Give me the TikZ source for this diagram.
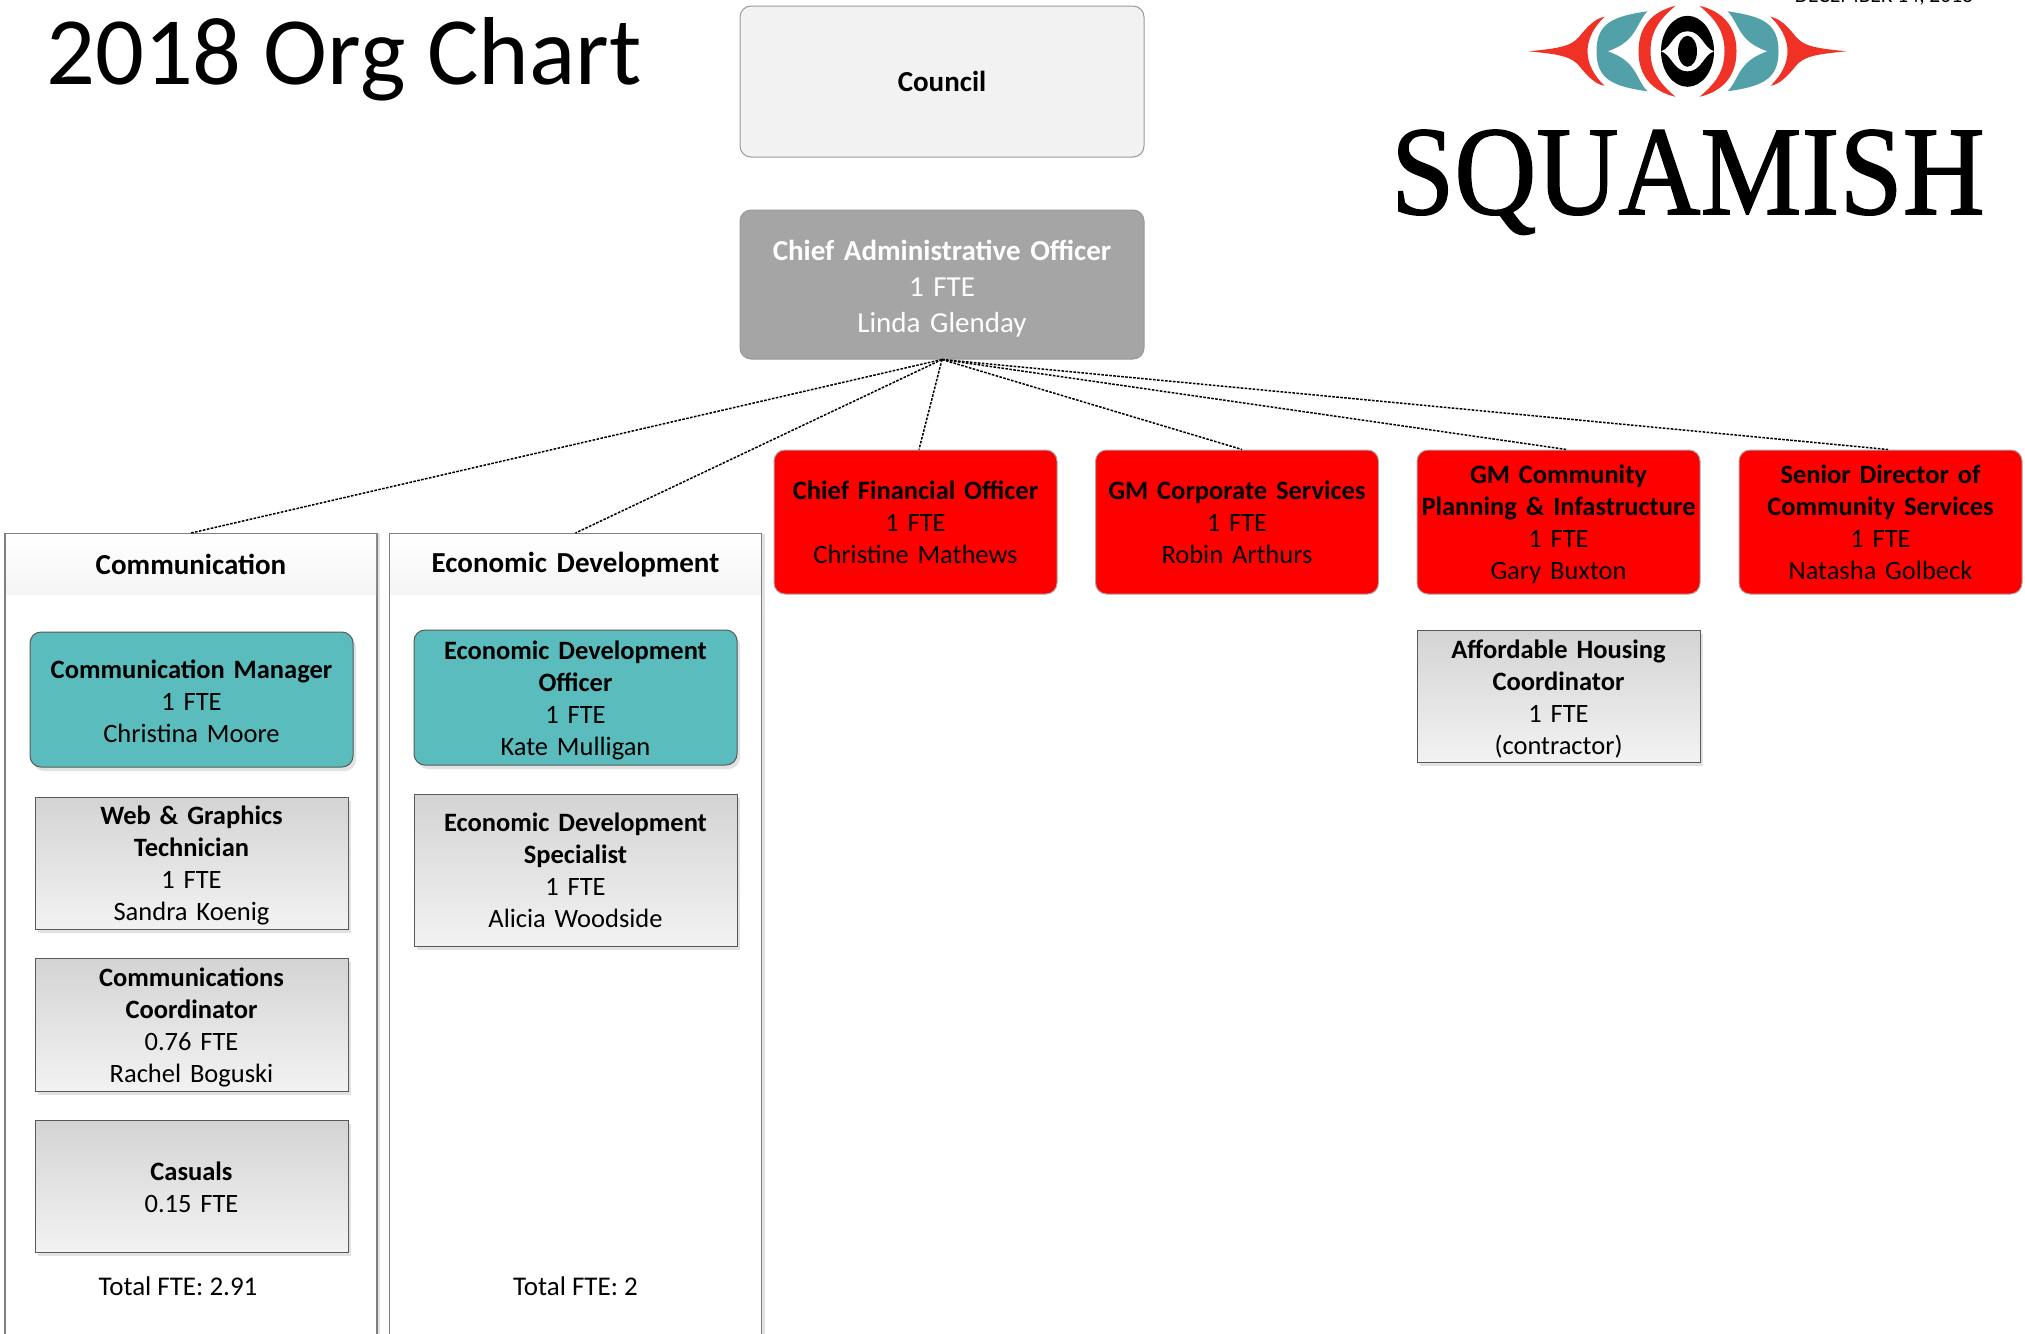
\documentclass[tikz,border=0pt]{standalone}
\usepackage{fontspec}
\setmainfont{Carlito}
\newfontfamily\logofont[FakeBold=1.2]{Liberation Serif}
\usetikzlibrary{shadows}
\definecolor{tealbox}{HTML}{5BBCBD}
\definecolor{grayhead}{HTML}{A5A5A5}
\definecolor{logored}{HTML}{F03125}
\definecolor{logoteal}{HTML}{52A0A8}
\definecolor{edgegray}{HTML}{7F7F7F}
\tikzset{
  softshadow/.style={drop shadow={shadow xshift=3pt,shadow yshift=-4pt,fill=black!22,opacity=.5}},
  basebox/.style={align=center,text width=#1,inner sep=0pt,font=\fontsize{26.5}{32}\selectfont},
  orgbox/.style 2 args={basebox=#1-4pt,minimum width=#1,minimum height=#2,anchor=center},
  graybox/.style 2 args={orgbox={#1}{#2},draw=black!65,line width=1pt,top color=black!17,bottom color=black!5,softshadow},
  tealnode/.style 2 args={orgbox={#1}{#2},draw=black!65,line width=1pt,fill=tealbox,rounded corners=11pt,softshadow},
  rednode/.style={orgbox={283}{144},draw=black!35,line width=1pt,fill=red,rounded corners=11pt},
  topnode/.style={orgbox={404}{#1},draw=black!40,line width=1pt,rounded corners=11pt,font=\fontsize{29}{36}\selectfont},
  panel/.style={orgbox={372}{812},draw=edgegray,line width=1.4pt,fill=white,anchor=north,drop shadow={shadow xshift=3pt,shadow yshift=0pt,fill=black!22,opacity=.5}},
  panelhead/.style={orgbox={370}{60},anchor=north,top color=white,bottom color=black!4,font=\fontsize{29}{36}\selectfont},
  nudge/.style={execute at begin node={\rule{0pt}{#1}}},
  link/.style={line width=1.5pt,dash pattern=on 2.6pt off 1.4pt,black},
}
\begin{document}
\begin{tikzpicture}[x=1pt,y=-1pt]
\clip (0,0) rectangle (2025,1333);
\fill[white] (0,0) rectangle (2025,1333);
% title and date
\node[anchor=base west,inner sep=0pt,font=\fontsize{96.5}{100}\selectfont] (title) at (46,84) {2018 Org Chart};
\node[anchor=base,inner sep=0pt,font=\fontsize{21.5}{26}\selectfont] (date) at (1884,2) {DECEMBER 14, 2018};
% logo
\begin{scope}[shift={(1687.5,51.3)}]
\foreach \s in {1,-1}{
\begin{scope}[xscale=\s]
 \fill[logored] (-159,0) .. controls (-128,-3) and (-116,-5) .. (-108,-15) .. controls (-100,-25) and (-92,-33) .. (-83,-34.5) .. controls (-94,-24) and (-100,-12) .. (-100,0) .. controls (-100,12) and (-94,24) .. (-83,34.5) .. controls (-92,33) and (-100,25) .. (-108,15) .. controls (-116,5) and (-128,3) .. (-159,0) -- cycle;
 \fill[logoteal] (-40,-40) .. controls (-75,-35) and (-91,-28) .. (-91,0) .. controls (-91,28) and (-75,35) .. (-40,40) .. controls (-52,28) and (-50,10) .. (-80,0) .. controls (-50,-10) and (-52,-28) .. (-40,-40) -- cycle;
 \fill[logored] (-12,-45.5) .. controls (-35,-40) and (-49,-25) .. (-49,0) .. controls (-49,25) and (-35,40) .. (-12,45.5) .. controls (-28,32) and (-37,20) .. (-37,0) .. controls (-37,-20) and (-28,-32) .. (-12,-45.5) -- cycle;
\end{scope}}
 \fill[black] (0,0) ellipse [x radius=26.5,y radius=35.5];
 \fill[white] (-26.5,0) .. controls (-16,-3) and (-14,-20) .. (0,-20) .. controls (14,-20) and (16,-3) .. (26.5,0) .. controls (16,3) and (14,20) .. (0,20) .. controls (-14,20) and (-16,3) .. (-26.5,0) -- cycle;
 \fill[black] (0,0) ellipse [x radius=9.5,y radius=15.5];
\end{scope}
\node[anchor=base,inner sep=0pt,xscale=.895,transform shape,font=\logofont\fontsize{127}{130}\selectfont] (squamish) at (1688,214) {SQUAMISH};
% top boxes
\node[topnode=151,fill=black!5] (council) at (942,81.5) {\textbf{Council}};
\node[topnode=149,fill=grayhead,text=white,nudge=29pt] (cao) at (942,284.5) {\textbf{Chief Administrative Officer}\\1 FTE\\Linda Glenday};
% red boxes
\node[rednode] (cfo) at (915.5,522) {\textbf{Chief Financial Officer}\\1 FTE\\Christine Mathews};
\node[rednode] (gmcs) at (1237,522) {\textbf{GM Corporate Services}\\1 FTE\\Robin Arthurs};
\node[rednode,nudge=24pt] (gmcp) at (1558.5,522) {\textbf{GM Community}\\\textbf{Planning \& Infastructure}\\1 FTE\\Gary Buxton};
\node[rednode] (sds) at (1880.5,522) {\textbf{Senior Director of}\\\textbf{Community Services}\\1 FTE\\Natasha Golbeck};
\node[graybox={283}{132},nudge=24pt] (ahc) at (1558.5,696) {\textbf{Affordable Housing}\\\textbf{Coordinator}\\1 FTE\\(contractor)};
% panels
\node[panel] (commpanel) at (191,533) {};
\node[panel] (econpanel) at (575.5,533) {};
\node[panelhead] (commhead) at (191,534) {\textbf{Communication}};
\node[panelhead] (econhead) at (575.5,534) {\textbf{Economic Development}};
% communication column
\node[tealnode={323}{135},nudge=22pt] (cm) at (191.5,699.5) {\textbf{Communication Manager}\\1 FTE\\Christina Moore};
\node[graybox={313}{132},nudge=24pt] (web) at (191.5,863) {\textbf{Web \& Graphics}\\\textbf{Technician}\\1 FTE\\Sandra Koenig};
\node[graybox={313}{133},nudge=24pt] (cc) at (191.5,1024.5) {\textbf{Communications}\\\textbf{Coordinator}\\0.76 FTE\\Rachel Boguski};
\node[graybox={313}{132},nudge=22pt] (cas) at (191.5,1186) {\textbf{Casuals}\\0.15 FTE};
\node[inner sep=0pt,font=\fontsize{27}{32}\selectfont] (tot1) at (178,1286) {Total FTE: 2.91};
% economic development column
\node[tealnode={323}{135},nudge=24pt] (edo) at (575.5,697.5) {\textbf{Economic Development}\\\textbf{Officer}\\1 FTE\\Kate Mulligan};
\node[graybox={323}{152}] (eds) at (575.5,870) {\textbf{Economic Development}\\\textbf{Specialist}\\1 FTE\\Alicia Woodside};
\node[inner sep=0pt,font=\fontsize{27}{32}\selectfont] (tot2) at (575.5,1286) {Total FTE: 2};
% connectors
\draw[link] (cao.south) -- (commpanel.north);
\draw[link] (cao.south) -- (econpanel.north);
\draw[link] (cao.south) -- ([xshift=3.5pt]cfo.north);
\draw[link] (cao.south) -- ([xshift=5pt]gmcs.north);
\draw[link] (cao.south) -- ([xshift=8pt]gmcp.north);
\draw[link] (cao.south) -- ([xshift=7.5pt]sds.north);
\end{tikzpicture}
\end{document}
